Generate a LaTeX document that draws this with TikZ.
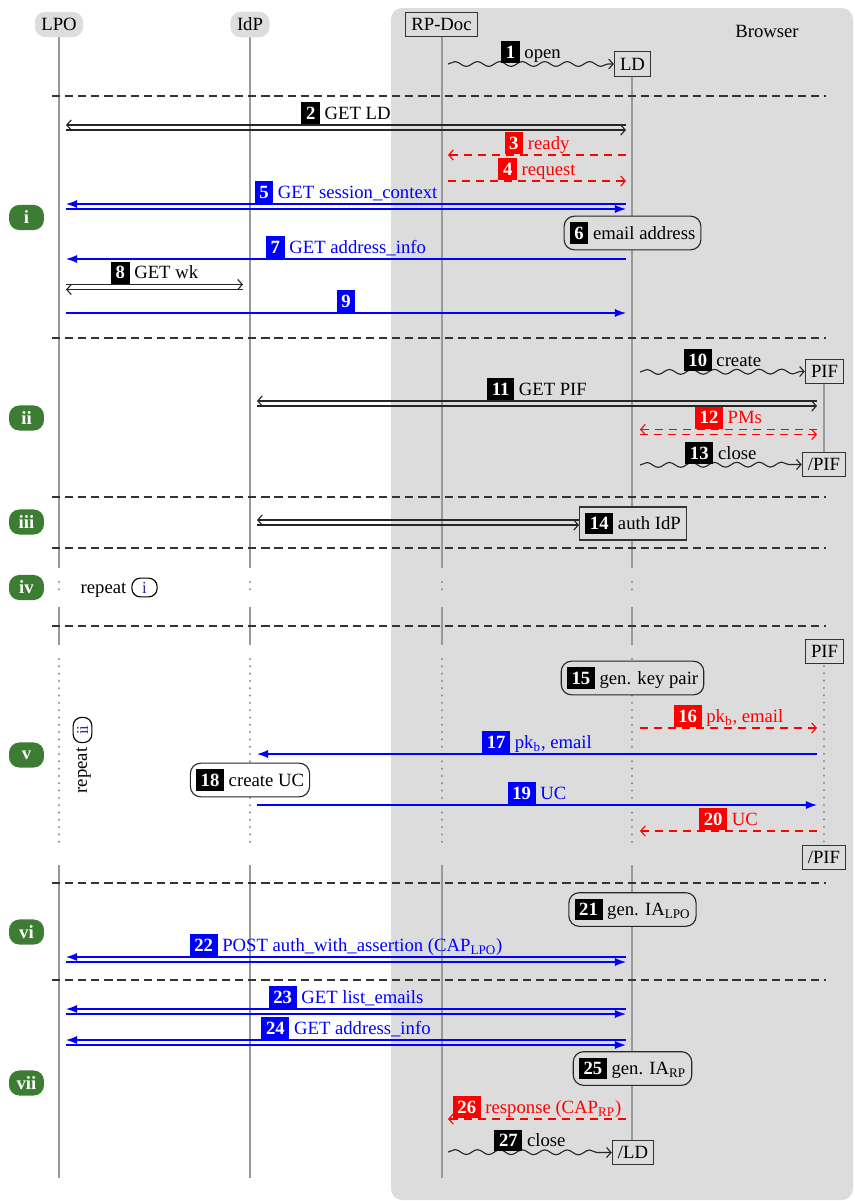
\documentclass[tikz,border=0pt]{standalone}
\usepackage{fontspec}
\setmainfont{Liberation Serif}
\usetikzlibrary{arrows.meta,decorations.pathmorphing}
\definecolor{bggray}{HTML}{DCDCDC}
\definecolor{hdrgray}{HTML}{DDDDDD}
\definecolor{secgreen}{HTML}{3D7D33}
\definecolor{lifegray}{HTML}{999999}
\definecolor{dotgray}{HTML}{888888}
\definecolor{sepgray}{HTML}{333333}
\definecolor{ibluec}{HTML}{2B2BA0}
\newcommand{\nb}[2]{{\setlength{\fboxsep}{2.5pt}\colorbox{#1}{\textcolor{white}{\bfseries #2}}}}
\newcommand{\msg}[5]{\draw[#1] (#2 |- 0,#4) -- (#3 |- 0,#4) node[lbl]{#5};}
\newcommand{\dmsg}[5]{%
  \pgfmathsetmacro\ytp{#4-2.5}\pgfmathsetmacro\ybt{#4+2.5}%
  \draw[#1] (#2 |- 0,\ytp) -- (#3 |- 0,\ytp) node[lbl]{#5};
  \draw[#1] (#3 |- 0,\ybt) -- (#2 |- 0,\ybt);}
\tikzset{
 lifeline/.style={draw=lifegray, line width=0.6pt},
 lifedot/.style={draw=dotgray, line width=1.3pt, line cap=round, dash pattern=on 0.01pt off 3.9pt},
 sepline/.style={draw=sepgray, line width=0.6pt, dash pattern=on 4.4pt off 2.6pt},
 hdr/.style={fill=hdrgray, rounded corners=5.5pt, minimum height=13.4pt, inner xsep=3.5pt},
 objbox/.style={draw=black!80, fill=bggray, line width=0.6pt, inner sep=3pt, minimum height=13pt},
 actbox/.style={draw=black!85, fill=bggray, line width=0.6pt, rounded corners=5.5pt, inner sep=3pt, minimum height=18pt},
 secl/.style={fill=secgreen, text=white, font=\bfseries, rounded corners=5.5pt, minimum width=18.7pt, minimum height=13.4pt, inner sep=0pt},
 ibox/.style={draw=black, line width=0.6pt, rounded corners=4.5pt, text=ibluec, minimum width=13.5pt, minimum height=10pt, inner sep=1pt, font=\small},
 mblk/.style={draw=black!85, line width=0.6pt, -{Straight Barb[length=2.4pt,width=5.4pt]}},
 mblu/.style={color=blue, line width=0.65pt, -{Latex[length=6pt,width=4.4pt]}},
 mred/.style={color=red, line width=0.6pt, dash pattern=on 4.3pt off 3.2pt, -{Straight Barb[length=2.4pt,width=5.4pt]}},
 mwav/.style={draw=black!85, line width=0.6pt, decorate, decoration={snake, amplitude=1.3pt, segment length=12pt, post length=2.5pt}, -{Straight Barb[length=2.4pt,width=5.4pt]}},
 lbl/.style={midway, anchor=base, yshift=3pt, inner sep=0pt},
}
\begin{document}
\begin{tikzpicture}[x=0.535pt,y=-0.535pt]
\useasboundingbox (0,0) rectangle (854,1201);
% browser area
\fill[bggray, rounded corners=6pt] (391,8) rectangle (853,1200);
\node (brw) at (767,31) {Browser};
% x positions of message ends
\coordinate (Lr) at (66,0);
\coordinate (Il) at (243,0);
\coordinate (Ir) at (257,0);
\coordinate (Rr) at (448,0);
\coordinate (Dl) at (626,0);
\coordinate (Dr) at (640,0);
\coordinate (Pl) at (817,0);
% lifelines
\foreach \x in {59,250,442}{
  \draw[lifeline] (\x,37) -- (\x,568);
  \draw[lifeline] (\x,607) -- (\x,645);
  \draw[lifeline] (\x,865) -- (\x,1178);
  \draw[lifedot] (\x,582) -- (\x,592);
  \draw[lifedot] (\x,659) -- (\x,847);
}
\draw[lifeline] (632,76) -- (632,568);
\draw[lifeline] (632,607) -- (632,645);
\draw[lifeline] (632,865) -- (632,1141);
\draw[lifedot] (632,582) -- (632,592);
\draw[lifedot] (632,659) -- (632,847);
\draw[lifeline] (824,384) -- (824,452);
\draw[lifedot] (824,666) -- (824,845);
% separators
\foreach \y in {96,338,497,548,626,883,980}{
  \draw[sepline] (52,\y) -- (826,\y);
}
% headers
\node[hdr] (LPO) at (59,24.5) {LPO};
\node[hdr] (IdP) at (250,24.5) {IdP};
\node[objbox] (RPD) at (441.5,24.5) {RP-Doc};
% object boxes
\node[objbox] (LD) at (632.5,64) {LD};
\node[objbox] (PIFa) at (824.5,371.5) {PIF};
\node[objbox] (PIFae) at (824,464.5) {/PIF};
\node[objbox, minimum height=17.5pt] (auth) at (633,523.5) {\nb{black}{14} auth IdP};
\node[objbox] (PIFb) at (824.5,651.5) {PIF};
\node[objbox] (PIFbe) at (824,857.5) {/PIF};
\node[objbox] (LDe) at (633,1152.5) {/LD};
% activity boxes
\node[actbox] (a6) at (632.5,233) {\nb{black}{6} email address};
\node[actbox] (a15) at (632.5,678) {\nb{black}{15} gen. key pair};
\node[actbox, fill=white] (a18) at (250,780) {\nb{black}{18} create UC};
\node[actbox] (a21) at (632.5,909.5) {\nb{black}{21} gen. IA\textsubscript{LPO}};
\node[actbox] (a25) at (632.5,1068.5) {\nb{black}{25} gen. IA\textsubscript{RP}};
% section labels
\node[secl] (s1) at (26.5,217.5) {i};
\node[secl] (s2) at (26.5,418) {ii};
\node[secl] (s3) at (26.5,522) {iii};
\node[secl] (s4) at (26.5,587.5) {iv};
\node[secl] (s5) at (26.5,755) {v};
\node[secl] (s6) at (26.5,932) {vi};
\node[secl] (s7) at (26.5,1083) {vii};
% repeat notes
\node[anchor=base, inner sep=0pt] (rep1) at (103.5,593) {repeat};
\node[ibox] (rep1b) at (144.5,587.5) {i};
\node[rotate=90, inner sep=0pt] (rep2) at (83.5,770.5) {repeat};
\node[ibox, rotate=90] (rep2b) at (82.5,730) {ii};
% messages
\draw[mwav] (Rr |- 0,64) -- (LD.west) node[lbl]{\nb{black}{1} open};
\dmsg{mblk}{Dl}{Lr}{127.5}{\nb{black}{2} GET LD}
\msg{mred}{Dl}{Rr}{155}{\nb{red}{3} ready}
\msg{mred}{Rr}{Dl}{181}{\nb{red}{4} request}
\dmsg{mblu}{Dl}{Lr}{206.5}{\nb{blue}{5} GET session\_context}
\msg{mblu}{Dl}{Lr}{259}{\nb{blue}{7} GET address\_info}
\dmsg{mblk}{Lr}{Il}{287}{\nb{black}{8} GET wk}
\msg{mblu}{Lr}{Dl}{313}{\nb{blue}{9}}
\draw[mwav] (Dr |- 0,372) -- (PIFa.west) node[lbl]{\nb{black}{10} create};
\dmsg{mblk}{Pl}{Ir}{403.5}{\nb{black}{11} GET PIF}
\dmsg{mred}{Pl}{Dr}{432}{\nb{red}{12} PMs}
\draw[mwav] (Dr |- 0,465) -- (PIFae.west) node[lbl]{\nb{black}{13} close};
\dmsg{mblk}{auth.west}{Ir}{522.5}{}
\msg{mred}{Dr}{Pl}{728}{\nb{red}{16} pk\textsubscript{b}, email}
\msg{mblu}{Pl}{Ir}{754}{\nb{blue}{17} pk\textsubscript{b}, email}
\msg{mblu}{Ir}{Pl}{805}{\nb{blue}{19} UC}
\msg{mred}{Pl}{Dr}{831}{\nb{red}{20} UC}
\dmsg{mblu}{Dl}{Lr}{959.5}{\nb{blue}{22} POST auth\_with\_assertion (CAP\textsubscript{LPO})}
\dmsg{mblu}{Dl}{Lr}{1011.5}{\nb{blue}{23} GET list\_emails}
\dmsg{mblu}{Dl}{Lr}{1042.5}{\nb{blue}{24} GET address\_info}
\msg{mred}{Dl}{Rr}{1119}{\nb{red}{26} response (CAP\textsubscript{RP})}
\draw[mwav] (Rr |- 0,1152) -- (LDe.west) node[lbl]{\nb{black}{27} close};
\end{tikzpicture}
\end{document}
